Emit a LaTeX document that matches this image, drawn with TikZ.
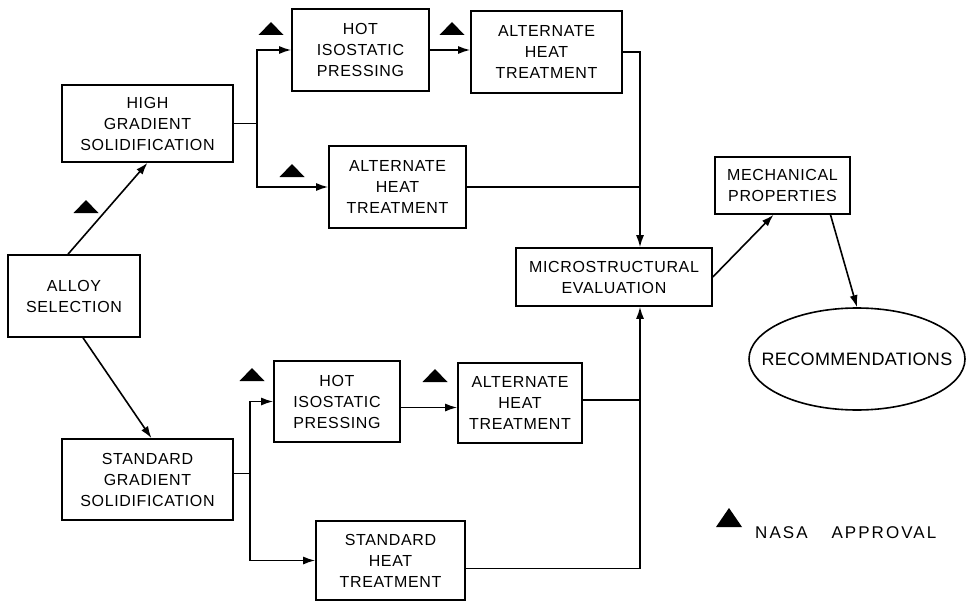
\documentclass[tikz,border=0pt]{standalone}
\usepackage{fontspec}
\setmainfont{Liberation Sans}[LetterSpace=4]
\usetikzlibrary{arrows.meta,shapes.geometric}
\begin{document}
\begin{tikzpicture}[x=1pt,y=-1pt,
  box/.style={draw, line width=1.6pt, align=center, inner sep=0pt,
    font=\fontsize{16}{21}\selectfont},
  conn/.style={line width=1.6pt},
  arr/.style={conn, -{Latex[length=12pt,width=8pt]}},
  nasa/.pic={\fill (-12.5,0) -- (12.5,0) -- (0,-13) -- cycle;},
  nasabig/.pic={\fill (-13,0) -- (13,0) -- (0,-19) -- cycle;}]
\useasboundingbox (0,0) rectangle (967,602);
% nodes
\node[box, minimum width=132pt, minimum height=82pt] (alloy) at (74,296) {ALLOY\\SELECTION};
\node[box, minimum width=171pt, minimum height=77pt] (hgs) at (147.5,123.5) {HIGH\\GRADIENT\\SOLIDIFICATION};
\node[box, minimum width=171pt, minimum height=81pt] (sgs) at (147.5,479.5) {STANDARD\\GRADIENT\\SOLIDIFICATION};
\node[box, minimum width=137pt, minimum height=82pt] (hip1) at (360.5,50) {HOT\\ISOSTATIC\\PRESSING};
\node[box, minimum width=151pt, minimum height=82pt] (ahtt) at (546.5,52) {ALTERNATE\\HEAT\\TREATMENT};
\node[box, minimum width=137pt, minimum height=82pt] (aht1) at (397.5,187) {ALTERNATE\\HEAT\\TREATMENT};
\node[box, minimum width=126pt, minimum height=81pt] (hip2) at (337,401.5) {HOT\\ISOSTATIC\\PRESSING};
\node[box, minimum width=124pt, minimum height=80pt] (aht2) at (520,403) {ALTERNATE\\HEAT\\TREATMENT};
\node[box, minimum width=149pt, minimum height=79pt] (sht) at (390.5,560.5) {STANDARD\\HEAT\\TREATMENT};
\node[box, minimum width=196pt, minimum height=58pt] (mse) at (614,277) {MICROSTRUCTURAL\\EVALUATION};
\node[box, minimum width=135pt, minimum height=57pt] (mp) at (782.5,185.5) {MECHANICAL\\PROPERTIES};
\node[draw, ellipse, line width=1.6pt, inner xsep=-26pt, inner ysep=0pt, minimum width=216pt, minimum height=102pt,
  font=\fontsize{18}{21}\selectfont\addfontfeature{LetterSpace=2}] (rec) at (857,359) {RECOMMENDATIONS};
% connectors
\draw[arr] ([xshift=-6pt]alloy.north) -- (hgs.south);
\draw[arr] ([xshift=9pt]alloy.south) -- ([xshift=4pt]sgs.north);
\draw[conn] (hgs.east) -- ++(23,0) coordinate (b1);
\draw[arr] (b1) |- (hip1.west);
\draw[arr] (b1) |- (aht1.west);
\draw[arr] (hip1.east) -- (ahtt.west |- hip1.east);
\coordinate (jx) at (640,0);
\draw[arr] (ahtt.east) -| (mse.north -| jx);
\draw[conn] (aht1.east) -- (aht1.east -| jx);
\draw[conn] ([yshift=6pt]sgs.east) -- ++(16,0) coordinate (b2);
\draw[arr] (b2) |- (hip2.west);
\draw[arr] (b2) |- (sht.west);
\draw[arr] ([yshift=-6pt]hip2.east) -- ([yshift=-6pt]hip2.east -| aht2.west);
\draw[conn] ([yshift=3pt]aht2.east) -- ([yshift=3pt]aht2.east -| jx);
\draw[arr] ([yshift=-8pt]sht.east) -| (mse.south -| jx);
\draw[arr] (mse.east) -- ([xshift=-9pt]mp.south);
\draw[arr] ([xshift=48pt]mp.south) -- (rec.north);
% NASA approval marks
\pic at (271,35) {nasa};
\pic at (452,35) {nasa};
\pic at (292,177) {nasa};
\pic at (86,213) {nasa};
\pic at (252,381) {nasa};
\pic at (435,382) {nasa};
\pic at (729,527) {nasabig};
\node[anchor=base west, inner sep=0pt, font=\fontsize{17}{21}\selectfont\addfontfeature{LetterSpace=12}] (legend) at (755,538) {NASA\hspace{24pt}APPROVAL};
\end{tikzpicture}
\end{document}
